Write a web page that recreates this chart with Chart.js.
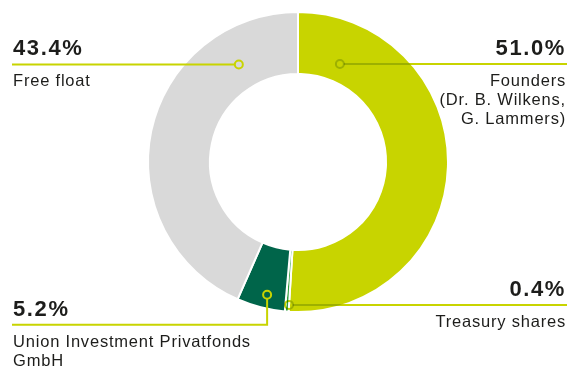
<!DOCTYPE html>
<html>
<head>
<meta charset="utf-8">
<script src="https://cdn.jsdelivr.net/npm/chart.js@4"></script>
<style>
  html, body { margin: 0; padding: 0; background: #fff; }
  #wrap { width: 570px; height: 367px; }
</style>
</head>
<body>
<div id="wrap"><canvas id="shareChart" width="570" height="367"></canvas></div>
<script>
// shareholder structure, clockwise from 12 o'clock
const holders = ["Founders", "Treasury shares", "Union Investment Privatfonds GmbH", "Free float"];
const shares = [51.0, 0.4, 5.2, 43.4];
const sliceColors = ["#c8d400", "#2f9e3c", "#00654a", "#d9d9d9"];

// caption lines as printed next to each slice
const captionLines = [
    ["Founders", "(Dr. B. Wilkens,", "G. Lammers)"],
    ["Treasury shares"],
    ["Union Investment Privatfonds", "GmbH"],
    ["Free float"]
];

// where the callout dot sits inside its slice (fraction of the sweep / of the ring),
// which side the text goes to and how far the line drops before turning
const callouts = [
    { along: 0.126, ring: 0.30, side: "right", drop: 0, multiply: true },
    { along: 0.0, ring: 0.89, side: "right", drop: 0, multiply: true },
    { along: 0.43, ring: 0.78, side: "left", drop: 30, multiply: false },
    { along: 0.80, ring: 0.42, side: "left", drop: 0, multiply: false }
];

const leaderColor = "#c8d400";
const textColor = "#1d1d1b";

const calloutPlugin = {
    id: "callouts",
    afterDraw(chart) {
        const ctx = chart.ctx;
        const meta = chart.getDatasetMeta(0);
        const leftX = 12, rightX = 567;

        meta.data.forEach((arc, i) => {
            const c = callouts[i];
            const p = arc.getProps(["x", "y", "startAngle", "endAngle", "innerRadius", "outerRadius"], true);
            const a = p.startAngle + c.along * (p.endAngle - p.startAngle);
            const r = p.innerRadius + c.ring * (p.outerRadius - p.innerRadius);
            const ax = p.x + r * Math.cos(a);
            const ay = p.y + r * Math.sin(a);
            const lineY = ay + c.drop;

            ctx.save();
            ctx.globalCompositeOperation = c.multiply ? "multiply" : "source-over";
            ctx.strokeStyle = leaderColor;
            ctx.lineWidth = 2;
            ctx.beginPath();
            if (c.drop > 0) {
                ctx.moveTo(ax, ay + 4);
                ctx.lineTo(ax, lineY);
            } else {
                ctx.moveTo(c.side === "left" ? ax - 4 : ax + 4, lineY);
            }
            ctx.lineTo(c.side === "left" ? leftX : rightX, lineY);
            ctx.stroke();
            ctx.beginPath();
            ctx.arc(ax, ay, 4, 0, Math.PI * 2);
            ctx.stroke();
            ctx.restore();

            // value and caption
            ctx.save();
            ctx.fillStyle = textColor;
            ctx.textBaseline = "alphabetic";
            ctx.textAlign = c.side === "left" ? "left" : "right";
            const tx = c.side === "left" ? leftX + 1 : rightX - 1;
            ctx.font = "bold 22px 'Liberation Sans', Arial, sans-serif";
            ctx.letterSpacing = "1.6px";
            ctx.fillText(shares[i].toFixed(1) + "%", tx, lineY - 9);
            ctx.font = "16.5px 'Liberation Sans', Arial, sans-serif";
            ctx.letterSpacing = "0.8px";
            captionLines[i].forEach((line, k) => {
                ctx.fillText(line, tx, lineY + 22 + k * 19);
            });
            ctx.restore();
        });
    }
};

new Chart(document.getElementById("shareChart"), {
    type: "doughnut",
    data: {
        labels: holders,
        datasets: [{
            data: shares,
            backgroundColor: sliceColors,
            borderColor: "#ffffff",
            borderWidth: 2,
            hoverOffset: 0
        }]
    },
    options: {
        responsive: false,
        animation: false,
        cutout: "58.7%",
        rotation: 0,
        layout: { padding: { left: 147, right: 121, top: 11, bottom: 54 } },
        plugins: {
            legend: { display: false },
            tooltip: { enabled: false }
        }
    },
    plugins: [calloutPlugin]
});
</script>
</body>
</html>
